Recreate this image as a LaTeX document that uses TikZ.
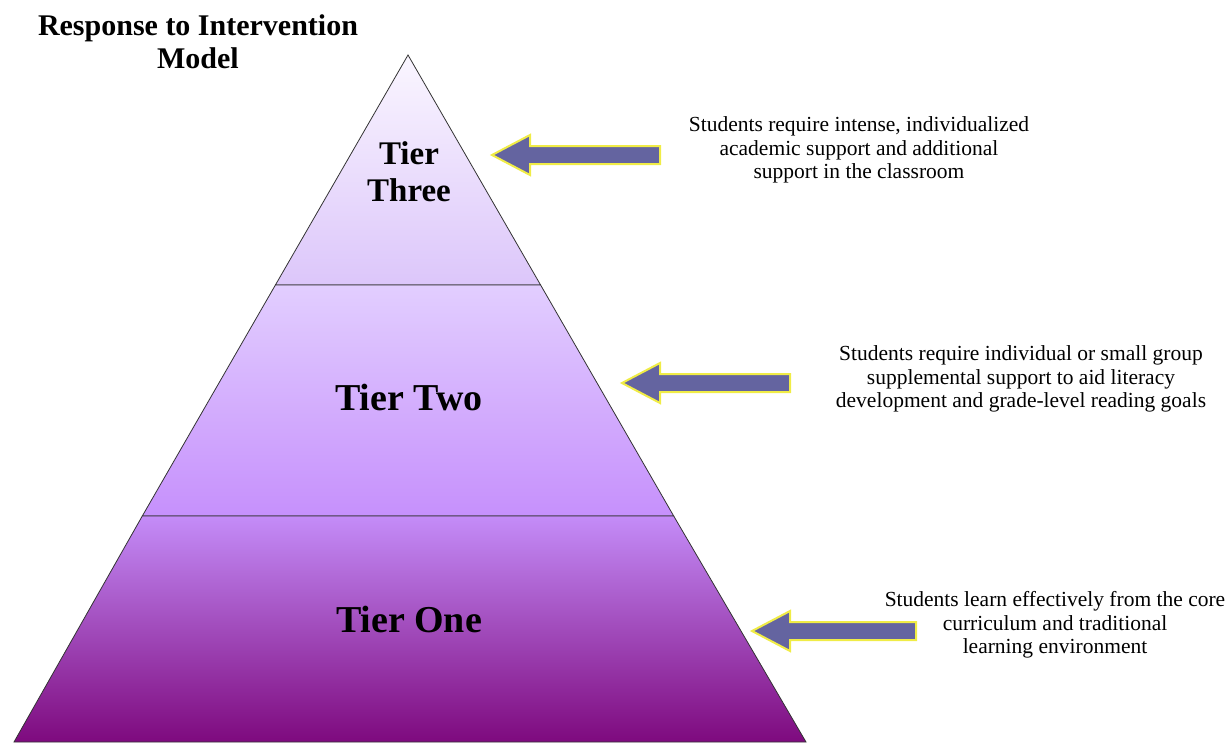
\documentclass[tikz,border=0pt]{standalone}
\usepackage{fontspec}
\setmainfont{Liberation Serif}
\definecolor{arrowfill}{RGB}{100,100,160}
\definecolor{arrowglow}{RGB}{240,236,70}
\definecolor{tierA}{RGB}{250,246,255}
\definecolor{tierB}{RGB}{220,198,250}
\definecolor{tierC}{RGB}{226,206,255}
\definecolor{tierD}{RGB}{198,144,252}
\definecolor{tierE}{RGB}{196,140,248}
\definecolor{tierF}{RGB}{168,92,196}
\definecolor{tierG}{RGB}{126,10,126}

\tikzset{
	tierline/.style={draw=black!80,line width=0.8pt},
	tierlabel/.style={font=\bfseries\fontsize{38}{38}\selectfont,align=center},
	note/.style={font=\fontsize{21.5}{23.5}\selectfont,align=center},
	fatarrow/.style={fill=arrowfill,draw=arrowglow,line width=2pt,line join=miter}
}

\begin{document}
\begin{tikzpicture}[x=1pt,y=-1pt]
	\useasboundingbox (0,0) rectangle (1231,742);
	% pyramid corners
	\coordinate (apex) at (408,55);
	\coordinate (bl) at (14,742);
	\coordinate (br) at (806,742);
	\coordinate (tl3) at (275.4,285);
	\coordinate (tr3) at (540.6,285);
	\coordinate (tl2) at (142.3,516);
	\coordinate (tr2) at (673.7,516);
	% tiers
	\path[tierline,top color=tierA,bottom color=tierB] (apex) -- (tr3) -- (tl3) -- cycle;
	\path[tierline,top color=tierC,bottom color=tierD] (tl3) -- (tr3) -- (tr2) -- (tl2) -- cycle;
	\path[tierline,top color=tierE,middle color=tierF,bottom color=tierG] (tl2) -- (tr2) -- (br) -- (bl) -- cycle;

	\node[font=\bfseries\fontsize{30}{33}\selectfont,align=center] (title) at (198,42) {Response to Intervention\\Model};

	\node[tierlabel,font=\bfseries\fontsize{33}{37}\selectfont] (three) at (409,172) {Tier\\Three};
	\node[tierlabel] (two) at (409,397) {Tier Two};
	\node[tierlabel] (one) at (409,619) {Tier One};

	\node[note] (n3) at (859,150) {Students require intense, individualized\\academic support and additional\\support in the classroom};
	\node[note] (n2) at (1021,379) {Students require individual or small group\\supplemental support to aid literacy\\development and grade-level reading goals};
	\node[note] (n1) at (1055,625) {Students learn effectively from the core\\curriculum and traditional\\learning environment};

	% arrows
	\draw[fatarrow] (492,155) -- (530,135) -- (530,146) -- (660,146) -- (660,164) -- (530,164) -- (530,175) -- cycle;
	\draw[fatarrow] (622,383) -- (660,363) -- (660,374) -- (790,374) -- (790,392) -- (660,392) -- (660,403) -- cycle;
	\draw[fatarrow] (752,631) -- (790,611) -- (790,622) -- (916,622) -- (916,640) -- (790,640) -- (790,651) -- cycle;
\end{tikzpicture}
\end{document}
